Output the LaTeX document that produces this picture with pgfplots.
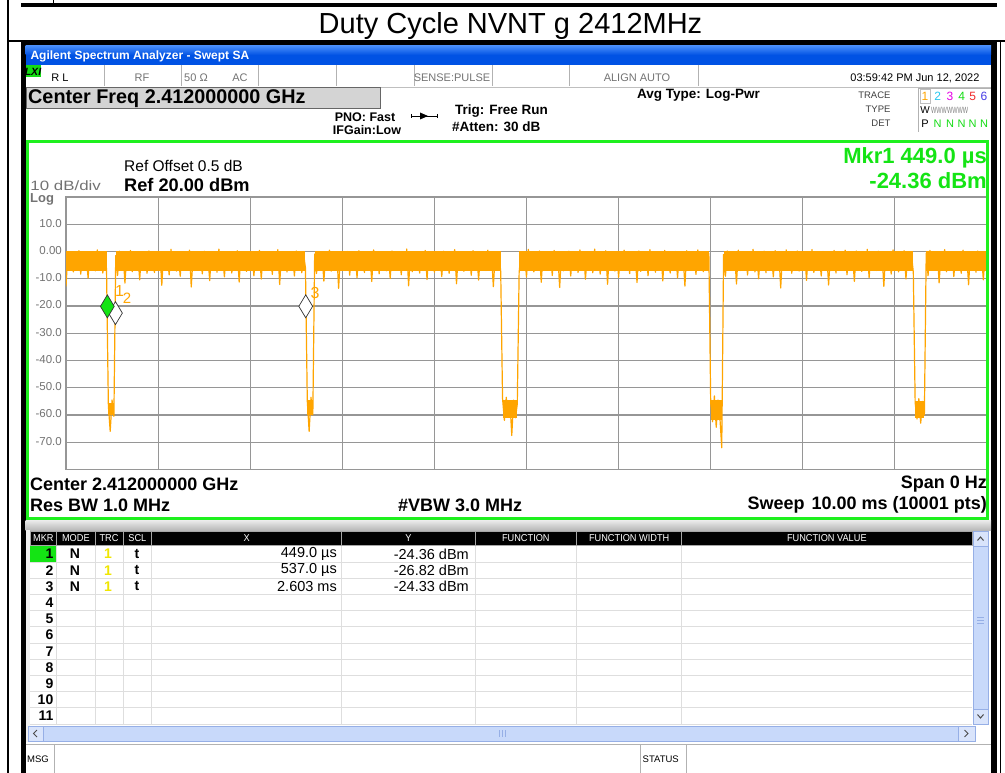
\documentclass[border=0pt]{standalone}
\usepackage{pgfplots}
\pgfplotsset{compat=1.18}
\usepackage{pgfplotstable}
\usepackage{fontspec}
\setmainfont{Liberation Sans}
\newcommand\fs[1]{\fontsize{#1}{#1}\selectfont}
\definecolor{trace}{RGB}{255,165,0}
\definecolor{frameg}{RGB}{30,240,30}
\definecolor{mkrg}{RGB}{20,228,20}
\definecolor{gridg}{RGB}{150,150,150}
\definecolor{lab}{RGB}{115,115,115}
\definecolor{winblue}{RGB}{0,82,228}
\definecolor{winbluetop}{RGB}{70,140,250}
\definecolor{sbblue}{RGB}{200,217,250}
\definecolor{sbedge}{RGB}{150,175,230}
\definecolor{cellline}{RGB}{222,222,222}
\definecolor{boxgray}{RGB}{212,212,212}
\definecolor{tr2}{RGB}{40,200,240}
\definecolor{tr3}{RGB}{230,0,230}
\definecolor{tr4}{RGB}{20,220,20}
\definecolor{tr5}{RGB}{240,40,40}
\definecolor{tr6}{RGB}{70,60,230}
\definecolor{yel}{RGB}{240,230,0}

% trace, one value per sweep step of 0.02 ms (0 ... 10 ms)
\pgfplotstableread[header=false,row sep=\\]{
-12.8\\ -1.0\\ -6.2\\ -0.4\\ -7.5\\ -1.2\\ -5.1\\ 0.3\\ -8.3\\ -0.9\\ -6.6\\ -1.5\\ -9.8\\ -0.2\\ -5.7\\ -1.1\\ -7.1\\ 0.6\\ -6.0\\ -0.7\\
-7.9\\ -0.3\\ -6.4\\ -56.5\\ -66.0\\ -54.5\\ -60.5\\ -1.5\\ -8.8\\ 0.1\\ -5.9\\ -0.8\\ -11.6\\ -1.3\\ -6.8\\ 0.4\\ -7.4\\ -0.6\\ -5.5\\ -1.0\\
-10.4\\ -0.5\\ -6.1\\ -1.4\\ -8.0\\ 0.2\\ -5.3\\ -0.9\\ -7.7\\ -1.8\\ -6.5\\ -0.1\\ -12.4\\ -0.7\\ -5.9\\ -1.2\\ -8.6\\ 0.8\\ -6.3\\ -0.4\\
-7.2\\ -1.1\\ -9.1\\ -0.3\\ -5.6\\ -0.8\\ -6.9\\ 0.5\\ -13.0\\ -1.5\\ -7.0\\ -0.6\\ -5.4\\ -1.0\\ -8.2\\ 0.1\\ -6.6\\ -1.3\\ -10.7\\ -0.2\\
-6.0\\ -0.9\\ -7.6\\ 0.9\\ -5.8\\ -1.6\\ -9.3\\ -0.4\\ -6.4\\ -0.7\\ -7.9\\ -1.2\\ -5.2\\ 0.3\\ -11.2\\ -0.8\\ -6.8\\ -1.4\\ -7.3\\ -0.1\\
-5.5\\ -0.6\\ -8.9\\ -1.0\\ -6.2\\ 0.4\\ -10.1\\ -0.9\\ -7.0\\ -1.7\\ -5.9\\ -0.2\\ -8.4\\ -1.1\\ -6.7\\ 0.7\\ -12.1\\ -0.5\\ -6.1\\ -1.3\\
-7.5\\ -0.4\\ -5.7\\ -1.2\\ -9.0\\ 0.2\\ -6.3\\ -0.8\\ -7.8\\ -1.0\\ -6.0\\ -55.0\\ -66.0\\ -53.5\\ -60.0\\ -0.9\\ -8.1\\ -0.3\\ -6.5\\ -1.4\\
-10.9\\ -0.6\\ -5.6\\ 0.5\\ -7.2\\ -1.1\\ -6.4\\ -0.2\\ -13.5\\ -0.9\\ -6.9\\ -1.5\\ -5.3\\ 0.0\\ -8.7\\ -0.7\\ -6.1\\ -1.2\\ -9.6\\ 0.3\\
-6.6\\ -1.0\\ -7.7\\ -0.4\\ -5.9\\ -1.3\\ -11.0\\ 0.6\\ -6.3\\ -0.8\\ -8.2\\ -0.1\\ -5.4\\ -1.6\\ -7.1\\ -0.5\\ -9.9\\ 0.2\\ -6.8\\ -1.1\\
-5.8\\ -0.3\\ -8.5\\ -0.9\\ -6.0\\ 0.9\\ -12.6\\ -0.6\\ -7.4\\ -1.4\\ -5.7\\ -0.2\\ -7.9\\ -1.0\\ -6.5\\ 0.4\\ -10.3\\ -0.8\\ -6.2\\ -1.2\\
-7.6\\ -0.4\\ -5.5\\ -1.7\\ -9.2\\ 0.1\\ -6.4\\ -0.7\\ -8.0\\ -1.1\\ -5.9\\ 0.7\\ -11.8\\ -0.5\\ -6.7\\ -1.3\\ -7.3\\ -0.2\\ -5.6\\ -0.9\\
-8.7\\ 0.3\\ -6.1\\ -1.0\\ -10.5\\ -0.6\\ -5.8\\ -1.5\\ -7.0\\ 0.5\\ -6.6\\ -0.8\\ -12.9\\ -1.2\\ -6.2\\ -0.4\\ -7.4\\ -54.0\\ -62.0\\ -53.5\\
-60.5\\ -55.0\\ -67.5\\ -54.5\\ -61.0\\ -56.0\\ -7.8\\ -0.2\\ -6.0\\ -1.1\\ -9.4\\ 0.8\\ -5.7\\ -0.9\\ -7.5\\ -1.4\\ -6.3\\ 0.2\\ -11.3\\ -0.7\\
-6.9\\ -1.2\\ -5.4\\ -0.3\\ -8.8\\ 0.4\\ -6.2\\ -1.0\\ -13.2\\ -0.6\\ -7.1\\ -1.5\\ -5.8\\ 0.1\\ -9.0\\ -0.8\\ -6.5\\ -1.2\\ -7.7\\ 0.6\\
-5.9\\ -0.5\\ -10.2\\ -1.3\\ -6.4\\ -0.1\\ -7.8\\ 0.9\\ -5.5\\ -0.9\\ -8.3\\ -1.1\\ -6.7\\ 0.3\\ -12.0\\ -0.6\\ -6.1\\ -1.4\\ -7.2\\ -0.2\\
-9.5\\ -0.8\\ -5.7\\ 0.5\\ -6.8\\ -1.2\\ -8.1\\ -0.4\\ -6.0\\ -1.6\\ -11.4\\ 0.2\\ -7.3\\ -0.7\\ -5.6\\ -1.0\\ -8.9\\ 0.7\\ -6.4\\ -0.5\\
-7.6\\ -1.1\\ -5.9\\ -0.3\\ -10.8\\ 0.4\\ -6.6\\ -0.9\\ -7.9\\ -1.3\\ -5.4\\ 0.0\\ -9.7\\ -0.6\\ -6.2\\ -1.5\\ -12.7\\ 0.3\\ -6.8\\ -0.8\\
-5.8\\ -1.0\\ -8.4\\ 0.6\\ -6.1\\ -0.5\\ -7.4\\ -1.2\\ -6.5\\ -0.7\\ -55.5\\ -62.5\\ -53.0\\ -64.5\\ -54.5\\ -61.0\\ -72.0\\ -1.1\\ -9.1\\ 0.2\\
-6.3\\ -0.6\\ -5.5\\ -1.4\\ -11.9\\ 0.5\\ -7.0\\ -0.9\\ -6.0\\ -0.2\\ -8.6\\ -1.3\\ -5.7\\ 0.8\\ -7.5\\ -0.4\\ -10.0\\ -1.0\\ -6.2\\ 0.1\\
-7.8\\ -0.7\\ -5.9\\ -1.5\\ -9.3\\ 0.3\\ -6.4\\ -0.8\\ -13.4\\ -1.1\\ -6.9\\ 0.6\\ -5.3\\ -0.5\\ -8.0\\ -1.2\\ -6.7\\ 0.2\\ -7.2\\ -0.9\\
-5.6\\ -0.3\\ -10.6\\ -1.0\\ -6.3\\ 0.7\\ -7.7\\ -0.6\\ -5.8\\ -1.4\\ -9.0\\ 0.0\\ -6.5\\ -0.8\\ -12.3\\ -1.2\\ -6.0\\ 0.4\\ -7.9\\ -0.5\\
-6.4\\ -1.1\\ -5.5\\ 0.5\\ -8.5\\ -0.7\\ -6.9\\ -1.3\\ -11.0\\ 0.2\\ -6.1\\ -0.4\\ -7.3\\ -1.0\\ -5.9\\ 0.8\\ -9.6\\ -0.6\\ -6.6\\ -1.5\\
-7.0\\ 0.1\\ -5.7\\ -0.9\\ -12.8\\ -0.3\\ -6.3\\ -1.2\\ -8.3\\ 0.6\\ -6.0\\ -0.7\\ -7.5\\ -1.4\\ -5.4\\ 0.3\\ -10.1\\ -0.8\\ -6.8\\ -1.0\\
-7.7\\ -55.5\\ -61.5\\ -54.0\\ -63.0\\ -55.0\\ -60.0\\ -0.6\\ -8.9\\ 0.4\\ -6.2\\ -1.1\\ -5.6\\ -0.5\\ -11.5\\ -1.3\\ -6.9\\ 0.7\\ -7.4\\ -0.8\\
-5.9\\ -1.2\\ -9.2\\ -0.2\\ -6.5\\ -0.9\\ -8.0\\ 0.5\\ -5.7\\ -1.4\\ -12.2\\ -0.6\\ -6.1\\ -1.0\\ -7.6\\ 0.2\\ -6.4\\ -0.7\\ -10.4\\ -1.1\\
-6.0\\
}\tracedata

\begin{document}
\begin{tikzpicture}
\useasboundingbox (0pt,0pt) rectangle (1005pt,-773pt);
\begin{scope}[x=1pt,y=-1pt]
\fill[white] (0,0) rectangle (1005,773);
% remnants of the page frame
\fill[black] (21,3.5) rectangle (997,7.5);
\draw[line width=1pt] (53,0)--(53,3.5);
\draw[line width=1.2pt] (8,0)--(8,773);
\draw[line width=1.2pt] (8,41)--(1005,41);
\draw[line width=1pt] (1000.5,41)--(1000.5,773);
\node[font=\fs{29}, anchor=base] at (510.5,33.5) {Duty Cycle NVNT g 2412MHz};
% analyzer window
\fill[black] (21,41.5) rectangle (997,773);
\fill[white] (25.5,46) rectangle (991,773);
\shade[top color=winbluetop, bottom color=winblue] (25.5,46) rectangle (991,55);
\fill[winblue] (25.5,55) rectangle (991,65);
\node[anchor=west, text=white, font=\bfseries\fs{12}] at (27,56) {Agilent Spectrum Analyzer - Swept SA};
% status row
\draw[gray!50, line width=0.8pt] (25.5,87) -- (991,87);
\foreach \xx in {104,181,258,336,414,492,569,698} \draw[gray!60, line width=0.8pt] (\xx,65)--(\xx,86.5);
\fill[tr4] (25.5,65) rectangle (41,77);
\node[font=\bfseries\itshape\fs{10.5}, inner sep=0pt] at (33,71.5) {LXI};
\node[font=\fs{11}] at (60,78) {R L};
\node[font=\fs{11}, text=lab] at (142,78) {RF};
\node[font=\fs{11}, text=lab] at (196,78) {50 Ω};
\node[font=\fs{11}, text=lab] at (240,78) {AC};
\node[font=\fs{11}, text=lab] at (452,78) {SENSE:PULSE};
\node[font=\fs{11}, text=lab] at (637,78) {ALIGN AUTO};
\node[font=\fs{11}, anchor=east] at (983,78) {03:59:42 PM Jun 12, 2022};
% center freq box
\filldraw[fill=boxgray, draw=gray!80!black, line width=1pt] (26.5,88) rectangle (380,109);
\node[anchor=west, font=\bfseries\fs{19.8}, inner sep=1pt] at (27,98.5) {Center Freq 2.412000000 GHz};
\node[font=\bfseries\fs{12.5}] at (365,117) {PNO: Fast};
\node[font=\bfseries\fs{12.5}] at (367,130) {IFGain:Low};
\draw[line width=0.8pt] (411,116)--(437,116);
\draw[line width=0.8pt] (411,114)--(411,118) (437,114)--(437,118);
\fill (420,112.5)--(428,116)--(420,119.5)--cycle;
\node[anchor=west, font=\bfseries\fs{13.5}, inner sep=1pt] at (454,111) {Trig: Free Run};
\node[anchor=west, font=\bfseries\fs{13.5}, inner sep=1pt] at (451,127) {\#Atten: 30 dB};
\node[anchor=west, font=\bfseries\fs{13.5}, inner sep=1pt] at (636,95) {Avg Type: Log-Pwr};
\node[anchor=east, font=\fs{9.5}, text=black!75] at (894,95) {TRACE};
\node[anchor=east, font=\fs{9.5}, text=black!75] at (894,109) {TYPE};
\node[anchor=east, font=\fs{9.5}, text=black!75] at (894,123) {DET};
\draw[gray!60, line width=0.8pt] (918,132)--(918,88)--(991,88);
\draw[gray!50, line width=0.6pt] (920.5,89.5) rectangle (930,103);
\node[font=\fs{12}, text=trace] at (925,96.5) {1};
\node[font=\fs{12}, text=tr2] at (937.7,96.5) {2};
\node[font=\fs{12}, text=tr3] at (950,96.5) {3};
\node[font=\fs{12}, text=tr4] at (961.7,96.5) {4};
\node[font=\fs{12}, text=tr5] at (972.7,96.5) {5};
\node[font=\fs{12}, text=tr6] at (984,96.5) {6};
\node[font=\fs{10}] at (925,110) {W};
\node[font=\fs{9}, text=gray, xscale=0.62, anchor=west] at (929,110) {WWWWWWW};
\node[font=\fs{11}] at (925,124) {P};
\foreach \xx in {937.7,950,961.7,972.7,984} \node[font=\fs{11}, text=tr4] at (\xx,124) {N};
% separator and table area
\shade[top color=gray!15, bottom color=gray!55] (25.5,520) rectangle (991,530);
\fill[gray!12] (25.5,530) rectangle (30,742);
\end{scope}

\begin{axis}[
  at={(66pt,-469.5pt)}, anchor=south west, scale only axis,
  width=921pt, height=272.5pt,
  xmin=0, xmax=10, ymin=-80, ymax=20,
  xtick={1,...,9}, xticklabels={},
  ytick={-70,-60,...,10},
  yticklabels={-70.0,-60.0,-50.0,-40.0,-30.0,-20.0,-10.0,0.00,10.0},
  grid=major, major grid style={draw=gridg, line width=1.1pt},
  axis line style={draw=gridg, line width=1.6pt},
  major tick length=0pt,
  yticklabel style={font=\fs{11.5}, text=lab, inner sep=0pt, xshift=-4pt, yshift=1pt},
  axis background/.style={fill=white},
]
% dense core of the noisy trace while the burst is on (0 dBm level) and off (-57 dBm level)
\addplot[fill=trace, draw=none] coordinates {(0,0.3)(0.44,0.3)(0.44,-7.0)(0,-7.0)} --cycle;
\addplot[fill=trace, draw=none] coordinates {(0.54,0.3)(2.60,0.3)(2.60,-7.0)(0.54,-7.0)} --cycle;
\addplot[fill=trace, draw=none] coordinates {(2.70,0.3)(4.72,0.3)(4.72,-7.0)(2.70,-7.0)} --cycle;
\addplot[fill=trace, draw=none] coordinates {(4.92,0.3)(6.98,0.3)(6.98,-7.0)(4.92,-7.0)} --cycle;
\addplot[fill=trace, draw=none] coordinates {(7.14,0.3)(9.20,0.3)(9.20,-7.0)(7.14,-7.0)} --cycle;
\addplot[fill=trace, draw=none] coordinates {(9.34,0.3)(10,0.3)(10,-7.0)(9.34,-7.0)} --cycle;
\addplot[fill=trace, draw=none] coordinates {(0.46,-55.5)(0.52,-55.5)(0.52,-60)(0.46,-60)} --cycle;
\addplot[fill=trace, draw=none] coordinates {(2.62,-54.5)(2.68,-54.5)(2.68,-60)(2.62,-60)} --cycle;
\addplot[fill=trace, draw=none] coordinates {(4.74,-54.5)(4.90,-54.5)(4.90,-61)(4.74,-61)} --cycle;
\addplot[fill=trace, draw=none] coordinates {(7.00,-54.5)(7.12,-54.5)(7.12,-62)(7.00,-62)} --cycle;
\addplot[fill=trace, draw=none] coordinates {(9.22,-55.0)(9.32,-55.0)(9.32,-61)(9.22,-61)} --cycle;
\addplot[trace, line width=1.2pt, line join=round] table[x expr=\coordindex*0.02, y index=0] {\tracedata};
\addplot[only marks, mark=diamond*, mark size=11.5pt,
  mark options={draw=black!80, fill=white, line width=0.7pt, yshift=11.5pt, xscale=0.8}]
  coordinates {(2.603,-24.33) (0.537,-26.82)};
\addplot[only marks, mark=diamond*, mark size=11.5pt,
  mark options={draw=black!80, fill=mkrg, line width=0.7pt, yshift=11.5pt, xscale=0.8}]
  coordinates {(0.449,-24.36)};
\node[text=trace, font=\fs{16}, xshift=12.3pt, yshift=26.4pt] at (axis cs:0.449,-24.36) {1};
\node[text=trace, font=\fs{15}, xshift=11.5pt, yshift=26.2pt] at (axis cs:0.537,-26.82) {2};
\node[text=trace, font=\fs{16}, xshift=9.3pt, yshift=25.3pt] at (axis cs:2.603,-24.33) {3};
\end{axis}

\begin{scope}[x=1pt,y=-1pt]
% green frame
\draw[frameg, line width=2.8pt] (27.5,141.3) rectangle (987.5,518.6);
\node[anchor=west, font=\fs{15.5}, inner sep=1pt] at (123,166) {Ref Offset 0.5 dB};
\node[anchor=west, font=\bfseries\fs{18.2}, inner sep=1pt] at (123,185) {Ref 20.00 dBm};
\node[anchor=west, font=\fs{13.5}, text=lab, xscale=1.25, inner sep=1pt] at (29,186) {10 dB/div};
\node[anchor=west, font=\bfseries\fs{13}, text=lab, inner sep=1pt] at (29,199.5) {Log};
\node[anchor=east, font=\bfseries\fs{22}, text=mkrg, inner sep=1pt] at (988,158) {Mkr1 449.0 µs};
\node[anchor=east, font=\bfseries\fs{22}, text=mkrg, inner sep=1pt] at (988,181) {-24.36 dBm};
\node[anchor=west, font=\bfseries\fs{18}, inner sep=1pt] at (29,484) {Center 2.412000000 GHz};
\node[anchor=west, font=\bfseries\fs{18}, inner sep=1pt] at (29,505) {Res BW 1.0 MHz};
\node[anchor=west, font=\bfseries\fs{18}, inner sep=1pt] at (397,505) {\#VBW 3.0 MHz};
\node[anchor=east, font=\bfseries\fs{18}, inner sep=1pt] at (988,484) {Span 0 Hz};
\node[anchor=east, font=\bfseries\fs{18}, inner sep=1pt] at (988,505) {Sweep\hspace{7pt}10.00 ms (10001 pts)};
% marker table
\foreach \a/\b/\t in {30/56.7/MKR,56.7/95/MODE,95/123/TRC,123/151.7/SCL,151.7/341.7/X,341.7/475/Y,475/576.7/FUNCTION,576.7/681.7/FUNCTION WIDTH,681.7/972/FUNCTION VALUE}{
  \filldraw[fill=black, draw=gray!70, line width=0.8pt] (\a,531) rectangle (\b,545.5);
  \node[text=white, font=\fs{10}, xscale=0.92] at ({(\a+\b)/2},538.5) {\t};
}
\fill[mkrg] (30,546) rectangle (56.7,562);
\foreach \k in {0,...,10} \draw[cellline, line width=0.9pt] (30,562+16.2*\k) -- (972,562+16.2*\k);
\foreach \xx in {56.7,95,123,151.7,341.7,475,576.7,681.7} \draw[cellline, line width=0.9pt] (\xx,546)--(\xx,724);
\foreach \k in {1,...,11} \node[anchor=east, font=\bfseries\fs{14}, inner sep=0pt] at (53.5,{554+16.2*(\k-1)}) {\k};
\foreach \k/\xv/\yv in {1/449.0 µs/-24.36 dBm, 2/537.0 µs/-26.82 dBm, 3/2.603 ms/-24.33 dBm}{
  \node[font=\bfseries\fs{14}] at (75,{554+16.2*(\k-1)}) {N};
  \node[font=\bfseries\fs{14}, text=yel] at (108,{554+16.2*(\k-1)}) {1};
  \node[font=\bfseries\fs{14}] at (137,{554+16.2*(\k-1)}) {t};
  \node[anchor=east, font=\fs{14.5}, inner sep=0pt] at (337,{554+16.2*(\k-1)}) {\xv};
  \node[anchor=east, font=\fs{14.5}, inner sep=0pt] at (469,{554+16.2*(\k-1)}) {\yv};
}
% vertical scroll bar
\filldraw[fill=sbblue, draw=sbedge, line width=0.8pt] (973,531) rectangle (988,724);
\filldraw[fill=sbblue!70!white, draw=sbedge, line width=0.8pt] (973,531) rectangle (988,546);
\filldraw[fill=sbblue!70!white, draw=sbedge, line width=0.8pt] (973,709) rectangle (988,724);
\draw[line width=1pt, black!70] (977.5,540.5)--(980.5,537)--(983.5,540.5);
\draw[line width=1pt, black!70] (977.5,714.5)--(980.5,718)--(983.5,714.5);
\draw[sbedge, line width=0.6pt] (977,617)--(984,617) (977,620)--(984,620) (977,623)--(984,623);
% horizontal scroll bar
\filldraw[fill=sbblue, draw=sbedge, line width=0.8pt] (28,726) rectangle (975,741);
\filldraw[fill=sbblue!70!white, draw=sbedge, line width=0.8pt] (28,726) rectangle (43,741);
\filldraw[fill=sbblue!70!white, draw=sbedge, line width=0.8pt] (958,726) rectangle (975,741);
\draw[line width=1pt, black!70] (37,730)--(33.5,733.5)--(37,737);
\draw[line width=1pt, black!70] (964.5,730)--(968,733.5)--(964.5,737);
\draw[sbedge, line width=0.6pt] (499,730)--(499,737) (502,730)--(502,737) (505,730)--(505,737);
% status line
\draw[gray!60, line width=0.8pt] (25.5,744)--(991,744);
\draw[gray!60, line width=0.8pt] (54,744)--(54,773) (640,744)--(640,773) (686,744)--(686,773);
\node[anchor=west, font=\fs{9.5}, inner sep=0pt] at (27,759) {MSG};
\node[anchor=west, font=\fs{9.5}, inner sep=0pt] at (642.5,759) {STATUS};
\end{scope}
\end{tikzpicture}
\end{document}
